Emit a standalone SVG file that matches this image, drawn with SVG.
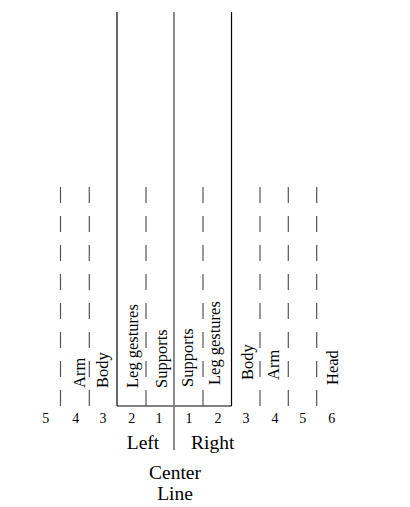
<svg xmlns="http://www.w3.org/2000/svg" width="410" height="507" viewBox="0 0 410 507">
<style>
text{font-family:"Liberation Serif","Times New Roman",serif;fill:#000}
.lbl{font-size:16.5px}
.num{font-size:14px;text-anchor:middle}
.big{font-size:19.5px;text-anchor:middle}
.solid{stroke:#000;stroke-width:1.2;fill:none}
.center{stroke:#808080;stroke-width:1.8;fill:none}
.dash{stroke:#555;stroke-width:1.2;stroke-dasharray:16 13;fill:none}
</style>
<rect width="410" height="507" fill="#fff"/>
<g id="connectors">
<line class="solid" x1="117" y1="12" x2="117" y2="406"/>
<line class="solid" x1="231.5" y1="12" x2="231.5" y2="406"/>
<line class="solid" x1="117" y1="406" x2="231.5" y2="406"/>
<line class="center" x1="174" y1="12" x2="174" y2="450"/>
<line class="dash" x1="60.5" y1="187" x2="60.5" y2="406"/>
<line class="dash" x1="89.3" y1="187" x2="89.3" y2="406"/>
<line class="dash" x1="146" y1="187" x2="146" y2="406"/>
<line class="dash" x1="203" y1="187" x2="203" y2="406"/>
<line class="dash" x1="260" y1="187" x2="260" y2="406"/>
<line class="dash" x1="288.3" y1="187" x2="288.3" y2="406"/>
<line class="dash" x1="316.7" y1="187" x2="316.7" y2="406"/>
</g>
<g id="label-arm-left"><text class="lbl" transform="translate(85,388) rotate(-90)">Arm</text></g>
<g id="label-body-left"><text class="lbl" transform="translate(107.6,388) rotate(-90)">Body</text></g>
<g id="label-leg-left"><text class="lbl" transform="translate(138,388) rotate(-90)">Leg gestures</text></g>
<g id="label-supports-left"><text class="lbl" transform="translate(167,388) rotate(-90)">Supports</text></g>
<g id="label-supports-right"><text class="lbl" transform="translate(192.6,387) rotate(-90)">Supports</text></g>
<g id="label-leg-right"><text class="lbl" transform="translate(220,385) rotate(-90)">Leg gestures</text></g>
<g id="label-body-right"><text class="lbl" transform="translate(252.6,380) rotate(-90)">Body</text></g>
<g id="label-arm-right"><text class="lbl" transform="translate(279,380) rotate(-90)">Arm</text></g>
<g id="label-head"><text class="lbl" transform="translate(338,385) rotate(-90)">Head</text></g>
<g id="numbers">
<text class="num" x="45.7" y="423.3">5</text>
<text class="num" x="75.7" y="423.3">4</text>
<text class="num" x="103" y="423.3">3</text>
<text class="num" x="131.7" y="423.3">2</text>
<text class="num" x="159" y="423.3">1</text>
<text class="num" x="189" y="423.3">1</text>
<text class="num" x="218" y="423.3">2</text>
<text class="num" x="246" y="423.3">3</text>
<text class="num" x="275" y="423.3">4</text>
<text class="num" x="302.7" y="423.3">5</text>
<text class="num" x="331.7" y="423.3">6</text>
</g>
<g id="label-left"><text class="big" x="143" y="449">Left</text></g>
<g id="label-right"><text class="big" x="212.7" y="449">Right</text></g>
<g id="label-center-line"><text class="big" x="175" y="479">Center</text><text class="big" x="175" y="500">Line</text></g>
</svg>
